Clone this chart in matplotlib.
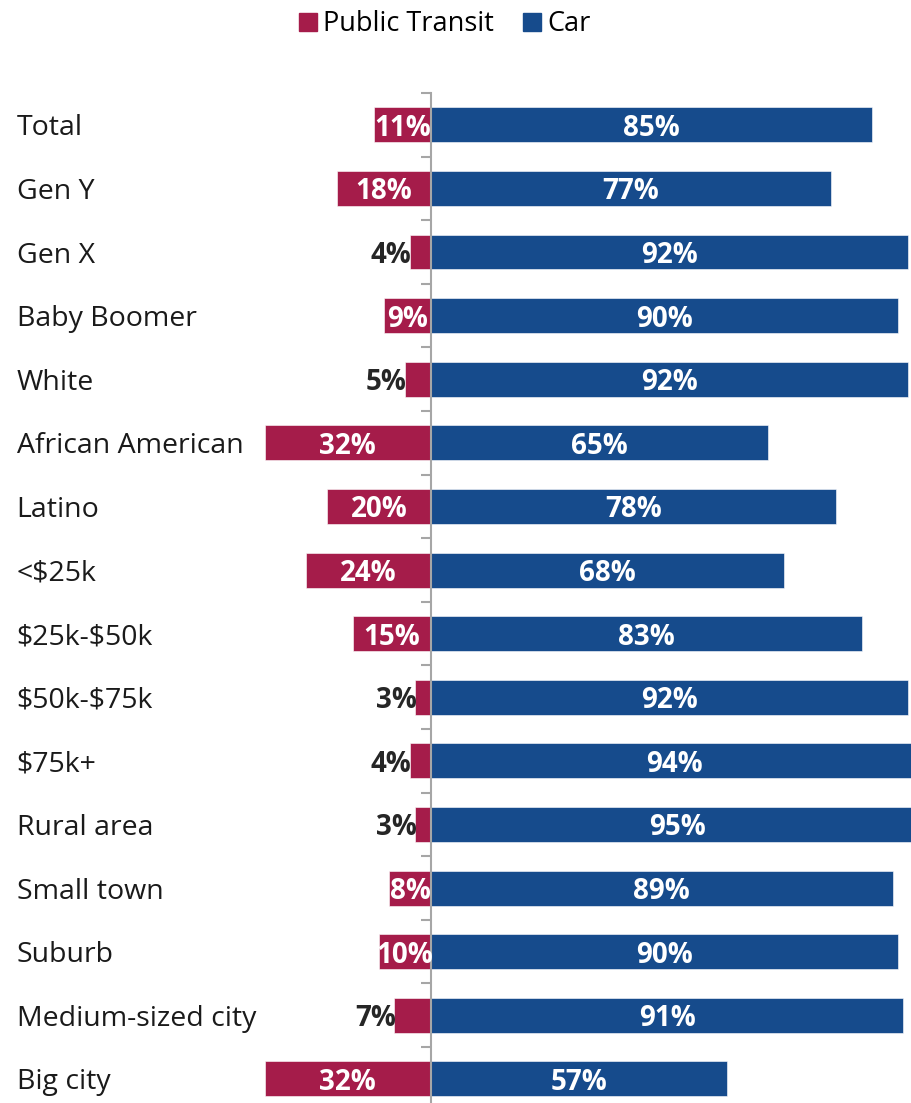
import numpy as np
import matplotlib.pyplot as plt
from matplotlib.lines import Line2D

# survey groups, top to bottom
groups = ["Total", "Gen Y", "Gen X", "Baby Boomer", "White", "African American",
          "Latino", "<$25k", "$25k-$50k", "$50k-$75k", "$75k+", "Rural area",
          "Small town", "Suburb", "Medium-sized city", "Big city"]
transit = np.array([11, 18, 4, 9, 5, 32, 20, 24, 15, 3, 4, 3, 8, 10, 7, 32])
car = np.array([85, 77, 92, 90, 92, 65, 78, 68, 83, 92, 94, 95, 89, 90, 91, 57])

red = "#A51C4A"
blue = "#164B8C"
plt.rcParams['font.family'] = ['Open Sans', 'DejaVu Sans']

fig = plt.figure(figsize=(9.12, 11.03), dpi=100)
ax = fig.add_axes([0, 0, 1, 1010 / 1103])

y = np.arange(len(groups))
ax.barh(y, -transit, height=0.55, color=red, edgecolor="white", linewidth=0.4)
ax.barh(y, car, height=0.55, color=blue, edgecolor="white", linewidth=0.4)

ax.set_xlim(-83.0, 92.7)
ax.set_ylim(15.38, -0.5)

# center axis with ticks between groups
for s in ["top", "right", "bottom"]:
    ax.spines[s].set_visible(False)
ax.spines["left"].set_position(("data", 0))
ax.spines["left"].set_color("#A6A6A6")
ax.spines["left"].set_linewidth(1.5)
ax.set_yticks(np.arange(-0.5, len(groups) - 1, 1.0))
ax.set_yticklabels([])
ax.tick_params(axis="y", direction="out", length=7, width=1.5, color="#A6A6A6")
ax.set_xticks([])

# group names
for i, g in enumerate(groups):
    ax.text(-79.8, i, g, ha="left", va="center_baseline", fontsize=20.5,
            color="#1a1a1a", parse_math=False)

# value labels
for i in range(len(groups)):
    ax.text(car[i] / 2, i, f"{car[i]}%", ha="center", va="center_baseline",
            fontsize=20, fontweight="bold", color="white")
    t = transit[i]
    if t >= 8:
        ax.text(-t / 2, i, f"{t}%", ha="center", va="center_baseline",
                fontsize=20, fontweight="bold", color="white")
    else:
        ax.text(-t + 0.3, i, f"{t}%", ha="right", va="center_baseline",
                fontsize=20, fontweight="bold", color="#262626")

handles = [Line2D([], [], marker="s", linestyle="none", markersize=13, color=red),
           Line2D([], [], marker="s", linestyle="none", markersize=13, color=blue)]
fig.legend(handles, ["Public Transit", "Car"], loc="center",
           bbox_to_anchor=(444 / 912, 1 - 24 / 1103), ncol=2, frameon=False,
           fontsize=19.5, handletextpad=0.15, columnspacing=1.0, handlelength=0.8)

fig.savefig("out.png", dpi=100)
